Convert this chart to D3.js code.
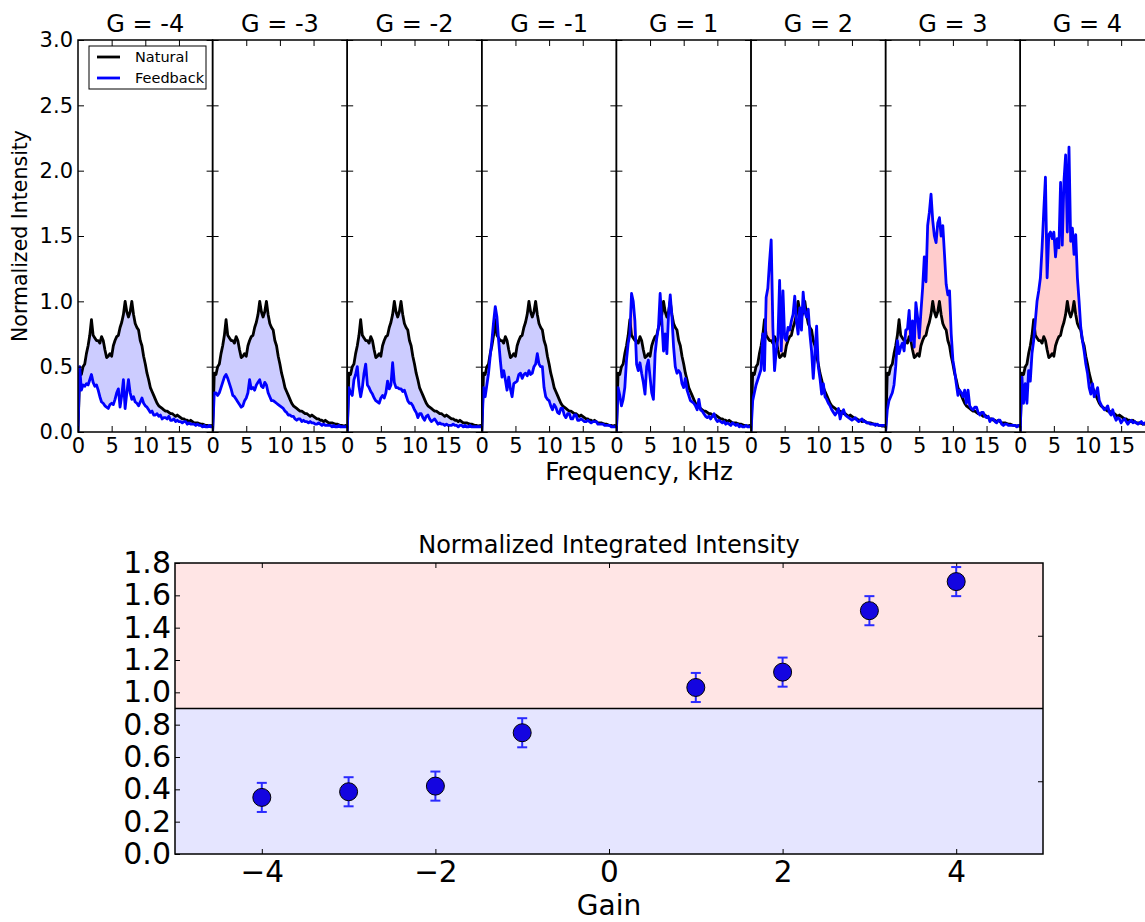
<!DOCTYPE html>
<html>
<head>
<meta charset="utf-8">
<script src="https://cdn.jsdelivr.net/npm/d3@7"></script>
<style>
  body { margin: 0; background: #fff; }
  svg text { font-family: "DejaVu Sans", sans-serif; fill: #000; }
</style>
</head>
<body>
<svg id="chart" width="1145" height="922"></svg>
<script>
// ---- Spectra: one panel per feedback gain ----
const gains = [-4, -3, -2, -1, 1, 2, 3, 4];

const freqKHz = [
  0, 0.25, 0.5, 0.75, 1, 1.25, 1.5, 1.75, 2, 2.25, 2.5, 2.75, 3, 3.25, 3.5, 3.75,
  4, 4.25, 4.5, 4.75, 5, 5.25, 5.5, 5.75, 6, 6.25, 6.5, 6.75, 7, 7.25, 7.5, 7.75,
  8, 8.25, 8.5, 8.75, 9, 9.25, 9.5, 9.75, 10, 10.25, 10.5, 10.75, 11, 11.25, 11.5, 11.75,
  12, 12.25, 12.5, 12.75, 13, 13.25, 13.5, 13.75, 14, 14.25, 14.5, 14.75, 15, 15.25, 15.5, 15.75,
  16, 16.25, 16.5, 16.75, 17, 17.25, 17.5, 17.75, 18, 18.25, 18.5, 18.75, 19, 19.25, 19.5, 19.75, 20
];

const natural = [
  0.00, 0.45, 0.44, 0.50, 0.52, 0.60, 0.66, 0.74, 0.86, 0.74, 0.72, 0.70, 0.70, 0.68, 0.73, 0.70,
  0.63, 0.57, 0.58, 0.60, 0.58, 0.66, 0.70, 0.73, 0.74, 0.80, 0.84, 0.90, 1.00, 0.92, 0.88, 0.92,
  1.00, 0.90, 0.83, 0.80, 0.78, 0.70, 0.66, 0.58, 0.52, 0.45, 0.40, 0.34, 0.31, 0.28, 0.25, 0.22,
  0.20, 0.19, 0.18, 0.17, 0.16, 0.16, 0.15, 0.14, 0.14, 0.13, 0.12, 0.13, 0.12, 0.11, 0.10, 0.10,
  0.09, 0.09, 0.08, 0.09, 0.08, 0.07, 0.07, 0.07, 0.065, 0.06, 0.06, 0.055, 0.05, 0.05, 0.045, 0.05, 0.04
];

const feedbackGm4 = [
  0.00, 0.50, 0.32, 0.36, 0.35, 0.37, 0.36, 0.40, 0.44, 0.38, 0.35, 0.36, 0.32, 0.27, 0.23, 0.22,
  0.20, 0.19, 0.18, 0.21, 0.22, 0.21, 0.25, 0.30, 0.33, 0.19, 0.28, 0.40, 0.18, 0.30, 0.40, 0.30,
  0.25, 0.27, 0.23, 0.22, 0.20, 0.23, 0.26, 0.22, 0.20, 0.19, 0.17, 0.15, 0.16, 0.13, 0.13, 0.14,
  0.12, 0.13, 0.10, 0.11, 0.11, 0.10, 0.12, 0.09, 0.09, 0.10, 0.08, 0.09, 0.08, 0.08, 0.07, 0.08,
  0.08, 0.06, 0.07, 0.06, 0.06, 0.06, 0.05, 0.06, 0.05, 0.05, 0.04, 0.05, 0.04, 0.04, 0.05, 0.04, 0.04
];

const feedbackGm3 = [
  0.00, 0.30, 0.30, 0.28, 0.30, 0.34, 0.38, 0.42, 0.44, 0.41, 0.37, 0.33, 0.28, 0.27, 0.25, 0.23,
  0.21, 0.19, 0.20, 0.24, 0.26, 0.30, 0.40, 0.33, 0.34, 0.32, 0.36, 0.38, 0.40, 0.35, 0.34, 0.38,
  0.36, 0.30, 0.27, 0.24, 0.24, 0.23, 0.22, 0.21, 0.20, 0.19, 0.18, 0.16, 0.15, 0.13, 0.13, 0.12,
  0.12, 0.10, 0.09, 0.10, 0.10, 0.08, 0.09, 0.08, 0.08, 0.07, 0.08, 0.07, 0.07, 0.06, 0.06, 0.07,
  0.06, 0.05, 0.06, 0.05, 0.05, 0.05, 0.05, 0.04, 0.05, 0.04, 0.04, 0.05, 0.04, 0.04, 0.04, 0.04, 0.04
];

const feedbackGm2 = [
  0.00, 0.34, 0.30, 0.28, 0.40, 0.44, 0.50, 0.35, 0.27, 0.34, 0.45, 0.52, 0.36, 0.34, 0.31, 0.29,
  0.26, 0.24, 0.23, 0.22, 0.26, 0.28, 0.26, 0.30, 0.39, 0.33, 0.36, 0.53, 0.38, 0.34, 0.34, 0.33,
  0.33, 0.31, 0.32, 0.28, 0.24, 0.22, 0.22, 0.20, 0.17, 0.15, 0.11, 0.14, 0.14, 0.11, 0.09, 0.12,
  0.13, 0.10, 0.08, 0.09, 0.10, 0.08, 0.06, 0.07, 0.06, 0.06, 0.05, 0.06, 0.05, 0.05, 0.05, 0.06,
  0.05, 0.05, 0.04, 0.05, 0.05, 0.04, 0.05, 0.04, 0.04, 0.05, 0.04, 0.04, 0.04, 0.04, 0.04, 0.04, 0.04
];

const feedbackGm1 = [
  0.00, 0.34, 0.27, 0.36, 0.45, 0.58, 0.70, 0.84, 0.96, 0.88, 0.70, 0.55, 0.42, 0.47, 0.40, 0.32,
  0.42, 0.33, 0.27, 0.37, 0.38, 0.39, 0.44, 0.45, 0.41, 0.44, 0.45, 0.43, 0.47, 0.44, 0.45, 0.50,
  0.52, 0.60, 0.52, 0.50, 0.50, 0.34, 0.27, 0.25, 0.24, 0.20, 0.17, 0.21, 0.19, 0.15, 0.14, 0.18,
  0.18, 0.13, 0.11, 0.14, 0.14, 0.10, 0.10, 0.13, 0.13, 0.09, 0.09, 0.10, 0.09, 0.08, 0.08, 0.09,
  0.08, 0.07, 0.08, 0.08, 0.08, 0.06, 0.06, 0.06, 0.06, 0.05, 0.05, 0.05, 0.05, 0.04, 0.04, 0.04, 0.04
];

const feedbackGp1 = [
  0.00, 0.34, 0.28, 0.20, 0.25, 0.34, 0.55, 0.68, 0.75, 1.06, 1.00, 0.85, 0.52, 0.47, 0.53, 0.45,
  0.38, 0.29, 0.50, 0.55, 0.42, 0.30, 0.25, 0.60, 0.72, 0.80, 1.06, 0.85, 0.62, 0.75, 0.60, 0.90,
  1.05, 0.88, 0.65, 0.50, 0.45, 0.47, 0.45, 0.37, 0.34, 0.41, 0.32, 0.28, 0.24, 0.23, 0.22, 0.20,
  0.17, 0.25, 0.17, 0.16, 0.14, 0.12, 0.11, 0.12, 0.10, 0.12, 0.14, 0.10, 0.08, 0.09, 0.08, 0.07,
  0.08, 0.06, 0.07, 0.06, 0.05, 0.07, 0.06, 0.05, 0.06, 0.04, 0.05, 0.04, 0.04, 0.05, 0.04, 0.04, 0.04
];

const feedbackGp2 = [
  0.00, 0.24, 0.30, 0.36, 0.40, 0.44, 0.48, 0.75, 0.47, 1.03, 1.10, 1.30, 1.47, 0.80, 0.47, 0.62,
  0.72, 1.16, 0.62, 1.08, 0.72, 0.70, 0.80, 0.78, 0.85, 0.90, 1.04, 0.85, 0.75, 0.95, 0.78, 1.07,
  0.92, 0.88, 0.94, 0.75, 0.62, 0.41, 0.60, 0.81, 0.50, 0.41, 0.29, 0.37, 0.27, 0.25, 0.22, 0.20,
  0.17, 0.15, 0.13, 0.15, 0.18, 0.10, 0.15, 0.17, 0.13, 0.12, 0.11, 0.10, 0.09, 0.10, 0.11, 0.09,
  0.08, 0.09, 0.10, 0.08, 0.08, 0.07, 0.07, 0.06, 0.06, 0.06, 0.05, 0.06, 0.05, 0.05, 0.05, 0.05, 0.05
];

const feedbackGp3 = [
  0.00, 0.17, 0.24, 0.27, 0.30, 0.36, 0.50, 0.70, 0.60, 0.65, 0.68, 0.62, 0.78, 0.79, 0.93, 0.70,
  0.85, 0.65, 0.99, 0.88, 0.72, 0.92, 1.10, 1.34, 1.15, 1.58, 1.68, 1.82, 1.62, 1.50, 1.45, 1.60,
  1.64, 1.50, 1.58, 1.36, 1.13, 1.05, 1.08, 0.75, 0.55, 0.47, 0.37, 0.28, 0.32, 0.30, 0.27, 0.32,
  0.22, 0.32, 0.20, 0.18, 0.17, 0.19, 0.19, 0.15, 0.13, 0.15, 0.15, 0.12, 0.11, 0.12, 0.08, 0.10,
  0.10, 0.08, 0.07, 0.09, 0.09, 0.06, 0.05, 0.06, 0.06, 0.05, 0.05, 0.05, 0.05, 0.05, 0.04, 0.05, 0.05
];

const feedbackGp4 = [
  0.00, 0.42, 0.22, 0.37, 0.22, 0.47, 0.39, 0.60, 0.70, 0.85, 1.00, 1.08, 1.18, 1.41, 1.69, 1.95,
  1.18, 1.51, 1.53, 1.48, 1.53, 1.34, 1.48, 1.41, 1.91, 1.43, 1.92, 2.12, 1.53, 2.18, 1.46, 1.56,
  1.36, 1.51, 1.18, 1.00, 0.80, 0.70, 0.62, 0.52, 0.45, 0.34, 0.29, 0.37, 0.27, 0.30, 0.34, 0.24,
  0.21, 0.19, 0.17, 0.18, 0.20, 0.15, 0.13, 0.17, 0.12, 0.09, 0.11, 0.10, 0.07, 0.09, 0.10, 0.08,
  0.06, 0.08, 0.09, 0.07, 0.08, 0.07, 0.06, 0.07, 0.08, 0.06, 0.07, 0.06, 0.06, 0.05, 0.05, 0.05, 0.05
];

const feedbackSeries = [
  feedbackGm4, feedbackGm3, feedbackGm2, feedbackGm1,
  feedbackGp1, feedbackGp2, feedbackGp3, feedbackGp4
];

const spectrumYTicks = [0, 0.5, 1.0, 1.5, 2.0, 2.5, 3.0];
const spectrumXTicks = [0, 5, 10, 15];
const legendLabels = ["Natural", "Feedback"];

// ---- Integrated intensity vs gain ----
const integratedMean = [0.35, 0.385, 0.42, 0.75, 1.03, 1.125, 1.505, 1.685];
const integratedErr  = [0.09, 0.09, 0.09, 0.09, 0.09, 0.09, 0.09, 0.09];
const gainTicks = [-4, -2, 0, 2, 4];
const intensityTicks = [0, 0.2, 0.4, 0.6, 0.8, 1.0, 1.2, 1.4, 1.6, 1.8];
const bandMidTicks = [0.45, 1.35];
const splitLevel = 0.9;

// ---- Drawing ----
const svg = d3.select("#chart");
const FONT = "DejaVu Sans, sans-serif";

const panelLeft = 78, panelWidth = 134.6, panelTop = 40, panelBottom = 432;
const ySpec = d3.scaleLinear().domain([0, 3]).range([panelBottom, panelTop]);
const xSpec = d3.scaleLinear().domain([0, 20]).range([0, panelWidth]);
const idx = d3.range(freqKHz.length);

function styleAxis(sel, size) {
  sel.attr("font-family", FONT).attr("font-size", size);
  sel.select(".domain").remove();
  sel.selectAll(".tick line").attr("stroke", "#000").attr("stroke-width", 1);
  sel.selectAll(".tick text").attr("fill", "#000");
}

feedbackSeries.forEach((fb, i) => {
  const x0 = panelLeft + i * panelWidth;
  const g = svg.append("g").attr("transform", `translate(${x0},0)`);
  const defs = g.append("defs");

  defs.append("clipPath").attr("id", `panel-${i}`)
    .append("rect").attr("x", 0).attr("y", panelTop)
    .attr("width", panelWidth).attr("height", panelBottom - panelTop);

  defs.append("clipPath").attr("id", `above-${i}`)
    .append("path")
    .attr("d", d3.area().x(j => xSpec(freqKHz[j])).y0(panelTop - 10).y1(j => ySpec(natural[j]))(idx));

  defs.append("clipPath").attr("id", `below-${i}`)
    .append("path")
    .attr("d", d3.area().x(j => xSpec(freqKHz[j])).y0(panelBottom + 10).y1(j => ySpec(natural[j]))(idx));

  const plot = g.append("g").attr("clip-path", `url(#panel-${i})`);

  const between = d3.area()
    .x(j => xSpec(freqKHz[j]))
    .y0(j => ySpec(natural[j]))
    .y1(j => ySpec(fb[j]));

  plot.append("g").attr("clip-path", `url(#below-${i})`)
    .append("path").attr("d", between(idx)).attr("fill", "#ccccff").attr("stroke", "none");
  plot.append("g").attr("clip-path", `url(#above-${i})`)
    .append("path").attr("d", between(idx)).attr("fill", "#ffcccc").attr("stroke", "none");

  const line = series => d3.line().x(j => xSpec(freqKHz[j])).y(j => ySpec(series[j]))(idx);

  plot.append("path").attr("d", line(natural))
    .attr("fill", "none").attr("stroke", "#000").attr("stroke-width", 2.8)
    .attr("stroke-linejoin", "round");
  plot.append("path").attr("d", line(fb))
    .attr("fill", "none").attr("stroke", "#0000ff").attr("stroke-width", 2.8)
    .attr("stroke-linejoin", "round");

  // ticks on all four sides, pointing inward
  g.append("g")
    .call(d3.axisLeft(ySpec).tickValues(spectrumYTicks).tickSizeInner(-6).tickSizeOuter(0)
      .tickPadding(5).tickFormat(i === 0 ? d3.format(".1f") : () => ""))
    .call(s => styleAxis(s, 21));
  g.append("g").attr("transform", `translate(${panelWidth},0)`)
    .call(d3.axisRight(ySpec).tickValues(spectrumYTicks).tickSizeInner(-6).tickSizeOuter(0).tickFormat(() => ""))
    .call(s => styleAxis(s, 21));
  g.append("g").attr("transform", `translate(0,${panelTop})`)
    .call(d3.axisTop(xSpec).tickValues([5, 10, 15]).tickSizeInner(-6).tickSizeOuter(0).tickFormat(() => ""))
    .call(s => styleAxis(s, 21));
  g.append("g").attr("transform", `translate(0,${panelBottom})`)
    .call(d3.axisBottom(xSpec).tickValues(spectrumXTicks).tickSizeInner(-6).tickSizeOuter(0)
      .tickPadding(6).tickFormat(d3.format("d")))
    .call(s => styleAxis(s, 21));

  g.append("rect").attr("x", 0).attr("y", panelTop)
    .attr("width", panelWidth).attr("height", panelBottom - panelTop)
    .attr("fill", "none").attr("stroke", "#000").attr("stroke-width", 1.5);

  g.append("text").attr("x", panelWidth / 2).attr("y", 32)
    .attr("text-anchor", "middle").attr("font-size", 24)
    .text(`G = ${gains[i]}`);
});

// legend in the first panel
const legend = svg.append("g").attr("transform", "translate(89,46)");
legend.append("rect").attr("width", 117).attr("height", 43)
  .attr("fill", "#fff").attr("stroke", "#000").attr("stroke-width", 1);
[["#000", 11], ["#0000ff", 32]].forEach(([c, y], k) => {
  legend.append("line").attr("x1", 8).attr("x2", 31).attr("y1", y).attr("y2", y)
    .attr("stroke", c).attr("stroke-width", 2.8);
  legend.append("text").attr("x", 46).attr("y", y + 5).attr("font-size", 14.5)
    .text(legendLabels[k]);
});

svg.append("text")
  .attr("transform", `translate(27,${(panelTop + panelBottom) / 2}) rotate(-90)`)
  .attr("text-anchor", "middle").attr("font-size", 20.5)
  .text("Normalized Intensity");

svg.append("text").attr("x", 639).attr("y", 480)
  .attr("text-anchor", "middle").attr("font-size", 24.5)
  .text("Frequency, kHz");

// ---- lower chart ----
const bx0 = 175, bx1 = 1043, byTop = 563, byBot = 854;
const xGain = d3.scaleLinear().domain([-5, 5]).range([bx0, bx1]);
const yInt = d3.scaleLinear().domain([0, 1.8]).range([byBot, byTop]);
const lower = svg.append("g");

lower.append("rect").attr("x", bx0).attr("y", yInt(1.8))
  .attr("width", bx1 - bx0).attr("height", yInt(splitLevel) - yInt(1.8))
  .attr("fill", "#ffe5e5");
lower.append("rect").attr("x", bx0).attr("y", yInt(splitLevel))
  .attr("width", bx1 - bx0).attr("height", yInt(0) - yInt(splitLevel))
  .attr("fill", "#e5e5ff");
lower.append("line").attr("x1", bx0).attr("x2", bx1)
  .attr("y1", yInt(splitLevel)).attr("y2", yInt(splitLevel))
  .attr("stroke", "#000").attr("stroke-width", 1.5);

lower.append("g").attr("transform", `translate(${bx0},0)`)
  .call(d3.axisLeft(yInt).tickValues(intensityTicks).tickSizeInner(-5).tickSizeOuter(0)
    .tickPadding(4).tickFormat(d3.format(".1f")))
  .call(s => styleAxis(s, 30));
lower.append("g").attr("transform", `translate(${bx1},0)`)
  .call(d3.axisRight(yInt).tickValues(bandMidTicks).tickSizeInner(-5).tickSizeOuter(0).tickFormat(() => ""))
  .call(s => styleAxis(s, 30));
lower.append("g").attr("transform", `translate(0,${byBot})`)
  .call(d3.axisBottom(xGain).tickValues(gainTicks).tickSizeInner(-5).tickSizeOuter(0).tickPadding(7))
  .call(s => styleAxis(s, 29.5));
lower.append("g").attr("transform", `translate(0,${byTop})`)
  .call(d3.axisTop(xGain).tickValues(gainTicks).tickSizeInner(-5).tickSizeOuter(0).tickFormat(() => ""))
  .call(s => styleAxis(s, 30));

lower.append("rect").attr("x", bx0).attr("y", byTop)
  .attr("width", bx1 - bx0).attr("height", byBot - byTop)
  .attr("fill", "none").attr("stroke", "#000").attr("stroke-width", 1.5);

const pts = gains.map((g, k) => ({ g, v: integratedMean[k], e: integratedErr[k] }));
const err = lower.append("g").attr("stroke", "#2a2aff").attr("stroke-width", 2);
pts.forEach(p => {
  err.append("line").attr("x1", xGain(p.g)).attr("x2", xGain(p.g))
    .attr("y1", yInt(p.v - p.e)).attr("y2", yInt(p.v + p.e));
  [p.v - p.e, p.v + p.e].forEach(c => {
    err.append("line").attr("x1", xGain(p.g) - 5).attr("x2", xGain(p.g) + 5)
      .attr("y1", yInt(c)).attr("y2", yInt(c));
  });
});
lower.append("g").selectAll("circle").data(pts).join("circle")
  .attr("cx", p => xGain(p.g)).attr("cy", p => yInt(p.v)).attr("r", 9)
  .attr("fill", "#1405e0").attr("stroke", "#000").attr("stroke-width", 1);

svg.append("text").attr("x", (bx0 + bx1) / 2).attr("y", 553)
  .attr("text-anchor", "middle").attr("font-size", 24)
  .text("Normalized Integrated Intensity");
svg.append("text").attr("x", (bx0 + bx1) / 2).attr("y", 915)
  .attr("text-anchor", "middle").attr("font-size", 28)
  .text("Gain");
</script>
</body>
</html>
